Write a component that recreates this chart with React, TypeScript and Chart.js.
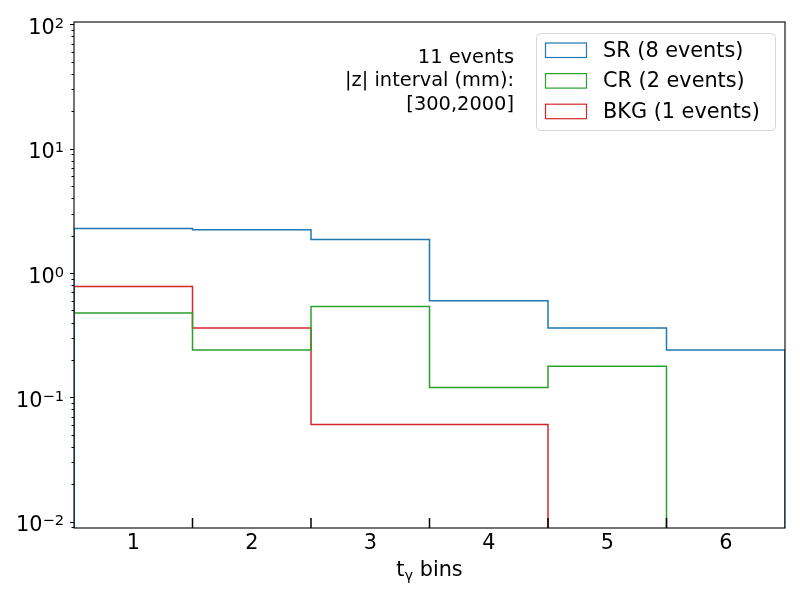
import React, { useEffect, useRef } from "react";
import { Chart, registerables } from "chart.js";

Chart.register(...registerables);

// ---- data ----
const binCenters = [1, 2, 3, 4, 5, 6];
const srValues = [2.28, 2.23, 1.86, 0.6, 0.362, 0.241];
const crValues = [0.478, 0.241, 0.537, 0.12, 0.178, 0];
const bkgValues = [0.78, 0.362, 0.0604, 0.0604, 0, 0];
const seriesLabels = ["SR (8 events)", "CR (2 events)", "BKG (1 events)"];
const seriesColors = ["#1f77b4", "#2ca02c", "#d62728"];
const yTickValues = [0.01, 0.1, 1, 10, 100];
const yTickBase = "10";
const yTickExponents = ["\u22122", "\u22121", "0", "1", "2"];
const annotationLines = ["11 events", "|z| interval (mm):", "[300,2000]"];
const xTitleMain = "t";
const xTitleSub = "\u03B3";
const xTitleRest = " bins";

const Y_MIN = 0.0089;
const Y_MAX = 104.5;
const FLOOR = 1e-6;
const FONT = "'DejaVu Sans', sans-serif";

function stepPoints(values: number[]) {
  const pts: { x: number; y: number }[] = [];
  pts.push({ x: binCenters[0] - 0.5, y: FLOOR });
  values.forEach((v, i) => {
    const y = v > 0 ? v : FLOOR;
    pts.push({ x: binCenters[i] - 0.5, y });
    pts.push({ x: binCenters[i] + 0.5, y });
  });
  pts.push({ x: binCenters[binCenters.length - 1] + 0.5, y: FLOOR });
  return pts;
}

const decorPlugin = {
  id: "decor",
  afterDraw(chart: any) {
    const ctx = chart.ctx as CanvasRenderingContext2D;
    const a = chart.chartArea;
    const xs = chart.scales.x;
    const ys = chart.scales.y;
    ctx.save();

    // spines
    ctx.strokeStyle = "#000";
    ctx.lineWidth = 1.1;
    ctx.strokeRect(a.left, a.top, a.right - a.left, a.bottom - a.top);

    // y ticks (major + minor), outward
    ctx.lineWidth = 1;
    for (let d = -3; d <= 2; d++) {
      for (let m = 1; m <= 9; m++) {
        const v = m * Math.pow(10, d);
        if (v < Y_MIN || v > Y_MAX) continue;
        const py = Math.round(ys.getPixelForValue(v)) + 0.5;
        const len = m === 1 ? 4 : 2.5;
        ctx.beginPath();
        ctx.moveTo(a.left - len, py);
        ctx.lineTo(a.left, py);
        ctx.stroke();
      }
    }

    // y tick labels: 10 with superscript exponent
    ctx.fillStyle = "#000";
    ctx.textBaseline = "alphabetic";
    ctx.textAlign = "left";
    const mainFont = `20.8px ${FONT}`;
    const supFont = `14.6px ${FONT}`;
    yTickValues.forEach((v, i) => {
      const py = ys.getPixelForValue(v);
      const exp = yTickExponents[i];
      ctx.font = supFont;
      const we = ctx.measureText(exp).width;
      ctx.font = mainFont;
      const wb = ctx.measureText(yTickBase).width;
      const right = a.left - 10;
      const xb = right - we - wb;
      ctx.fillText(yTickBase, xb, py + 9.6);
      ctx.font = supFont;
      ctx.fillText(exp, xb + wb, py + 3.6);
    });

    // x bin-edge ticks, inward
    ctx.lineWidth = 1.5;
    for (let i = 0; i < binCenters.length - 1; i++) {
      const px = xs.getPixelForValue(binCenters[i] + 0.5);
      ctx.beginPath();
      ctx.moveTo(px, a.bottom);
      ctx.lineTo(px, a.bottom - 10);
      ctx.stroke();
    }

    // annotation text
    ctx.fillStyle = "#000";
    ctx.font = `19.4px ${FONT}`;
    ctx.textAlign = "right";
    ctx.textBaseline = "alphabetic";
    annotationLines.forEach((t, i) => {
      ctx.fillText(t, a.left + 440, a.top + 41 + i * 23.3);
    });

    // legend
    const lx = a.right - 249;
    const ly = a.top + 11;
    const lw = 239;
    const lh = 97;
    ctx.beginPath();
    (ctx as any).roundRect(lx + 0.5, ly + 0.5, lw, lh, 4);
    ctx.fillStyle = "rgba(255,255,255,0.8)";
    ctx.fill();
    ctx.strokeStyle = "#d6d6d6";
    ctx.lineWidth = 1;
    ctx.stroke();
    ctx.font = `20.8px ${FONT}`;
    ctx.textAlign = "left";
    ctx.textBaseline = "middle";
    chart.data.datasets.forEach((ds: any, i: number) => {
      const cy = ly + 17 + i * 30.6;
      ctx.strokeStyle = ds.borderColor;
      ctx.lineWidth = 1.2;
      ctx.strokeRect(lx + 9.5, cy - 7, 41, 14.5);
      ctx.fillStyle = "#000";
      ctx.fillText(ds.label, lx + 67, cy + 1.5);
    });

    // x title with subscript
    ctx.textBaseline = "alphabetic";
    const big = `20.8px ${FONT}`;
    const small = `14.6px ${FONT}`;
    ctx.font = big;
    const w1 = ctx.measureText(xTitleMain).width;
    const w3 = ctx.measureText(xTitleRest).width;
    ctx.font = small;
    const w2 = ctx.measureText(xTitleSub).width;
    const total = w1 + w2 + w3;
    const x0 = (a.left + a.right) / 2 - total / 2;
    const base = a.bottom + 47.5;
    ctx.font = big;
    ctx.fillText(xTitleMain, x0, base);
    ctx.font = small;
    ctx.fillText(xTitleSub, x0 + w1, base + 4);
    ctx.font = big;
    ctx.fillText(xTitleRest, x0 + w1 + w2, base);

    ctx.restore();
  },
};

export default function App() {
  const ref = useRef<HTMLCanvasElement | null>(null);
  useEffect(() => {
    document.body.style.margin = "0";
    const canvas = ref.current;
    if (!canvas) return;
    const datasets = [srValues, crValues, bkgValues].map((vals, i) => ({
      label: seriesLabels[i],
      data: stepPoints(vals),
      borderColor: seriesColors[i],
      backgroundColor: seriesColors[i],
      borderWidth: 1.5,
      pointRadius: 0,
      tension: 0,
      fill: false,
    }));
    const chart = new Chart(canvas, {
      type: "line",
      data: { datasets },
      plugins: [decorPlugin],
      options: {
        animation: false,
        responsive: false,
        events: [],
        layout: { padding: { left: 0, right: 15, top: 22, bottom: 0 } },
        plugins: {
          legend: { display: false },
          tooltip: { enabled: false },
          title: { display: false },
        },
        scales: {
          x: {
            type: "linear",
            min: 0.5,
            max: 6.5,
            grid: { display: false, drawTicks: false },
            border: { display: false },
            afterBuildTicks: (scale: any) => {
              scale.ticks = binCenters.map((v) => ({ value: v }));
            },
            afterFit: (scale: any) => {
              scale.height = 72;
            },
            ticks: {
              padding: 3,
              autoSkip: false,
              maxRotation: 0,
              color: "#000",
              font: { family: FONT, size: 20.8 },
              callback: (v: any) => String(v),
            },
          },
          y: {
            type: "logarithmic",
            min: Y_MIN,
            max: Y_MAX,
            grid: { display: false, drawTicks: false },
            border: { display: false },
            afterBuildTicks: (scale: any) => {
              scale.ticks = yTickValues.map((v) => ({ value: v }));
            },
            afterFit: (scale: any) => {
              scale.width = 74;
            },
            ticks: {
              display: false,
            },
          },
        },
      } as any,
    });
    return () => chart.destroy();
  }, []);
  return (
    <div style={{ position: "fixed", left: 0, top: 0, width: 800, height: 600, background: "#fff" }}>
      <canvas ref={ref} width={800} height={600} />
    </div>
  );
}
